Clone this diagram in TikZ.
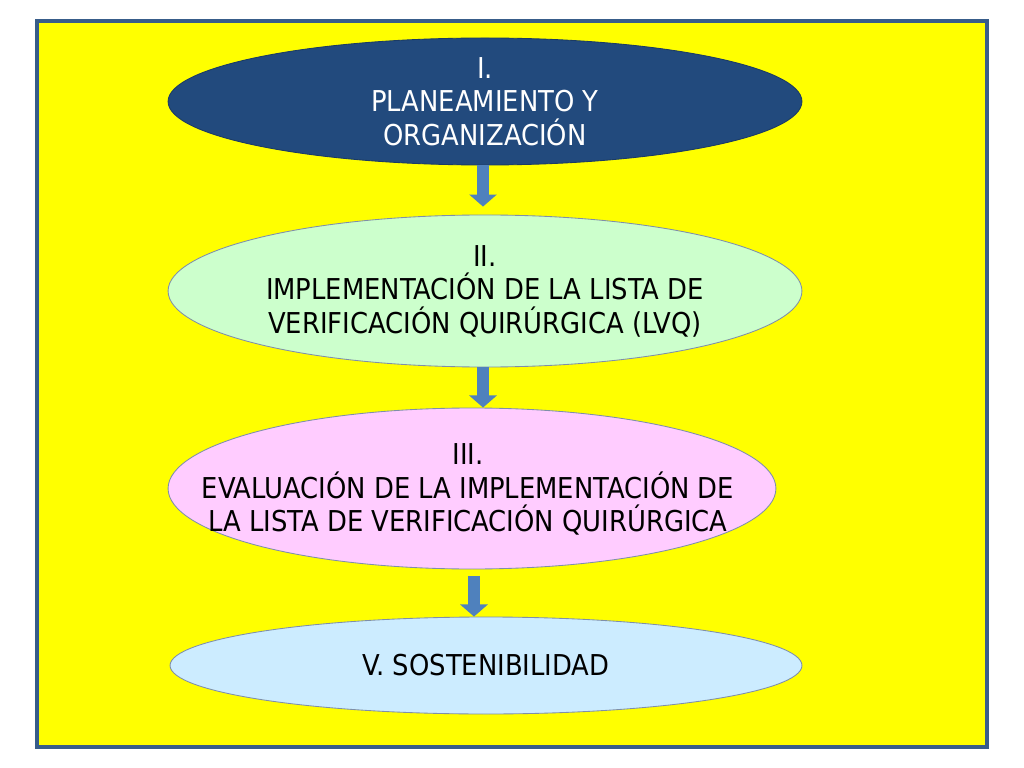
\documentclass[tikz,border=0pt]{standalone}
\usepackage{fontspec}
\setmainfont{DejaVu Sans Condensed}
\usetikzlibrary{shapes.geometric,arrows.meta}
\definecolor{navy}{HTML}{224A7D}
\definecolor{lgreen}{HTML}{CCFFCC}
\definecolor{lpink}{HTML}{FFCCFF}
\definecolor{lblue}{HTML}{CCECFF}
\definecolor{arrowblue}{HTML}{4F81BD}
\definecolor{framecol}{HTML}{385D8A}
\definecolor{edgecol}{HTML}{7F8FA9}
\definecolor{bgyellow}{RGB}{255,255,0}
\begin{document}
\begin{tikzpicture}[x=0.703125pt,y=-0.703125pt,
  phase/.style={ellipse,inner sep=0pt,align=center,
    font=\fontsize{20.2}{23.6}\selectfont},
  blockarrow/.style={arrowblue,line width=8.5pt,
    -{Triangle[width=19pt,length=8.5pt]}}]
\useasboundingbox (0,0) rectangle (1024,768);
\fill[white] (0,0) rectangle (1024,768);
\draw[framecol,line width=2.2pt,fill=bgyellow] (37,21) rectangle (987,747);
\node[phase,fill=navy,draw=navy!80!black,line width=0.6pt,text=white,
  minimum width=445.7pt,minimum height=89.3pt] (e1) at (485,101.5)
  {I.\\PLANEAMIENTO Y\\ORGANIZACIÓN};
\node[phase,fill=lgreen,draw=edgecol,line width=0.6pt,
  minimum width=445.7pt,minimum height=106.9pt] (e2) at (485,291)
  {II.\\IMPLEMENTACIÓN DE LA LISTA DE\\VERIFICACIÓN QUIRÚRGICA (LVQ)};
\node[phase,fill=lpink,draw=edgecol,line width=0.6pt,
  minimum width=427.4pt,minimum height=113.2pt] (e3) at (472,488.5)
  {};
\node[phase,align=center] (t3) at (468,489.5)
  {III.\\EVALUACIÓN DE LA IMPLEMENTACIÓN DE\\LA LISTA DE VERIFICACIÓN QUIRÚRGICA};
\node[phase,fill=lblue,draw=edgecol,line width=0.6pt,
  minimum width=444.3pt,minimum height=68.2pt] (e4) at (486,665.5)
  {V. SOSTENIBILIDAD};
\draw[blockarrow] ([xshift=-1.4pt]e1.south) -- ([xshift=-1.4pt,yshift=5.6pt]e1.south |- e2.north);
\draw[blockarrow] ([xshift=-1.4pt]e2.south) -- ([xshift=-1.4pt]e2.south |- e3.north);
\draw[blockarrow] ([xshift=1.4pt,yshift=-4.9pt]e3.south) -- ([xshift=1.4pt]e3.south |- e4.north);
\end{tikzpicture}
\end{document}
